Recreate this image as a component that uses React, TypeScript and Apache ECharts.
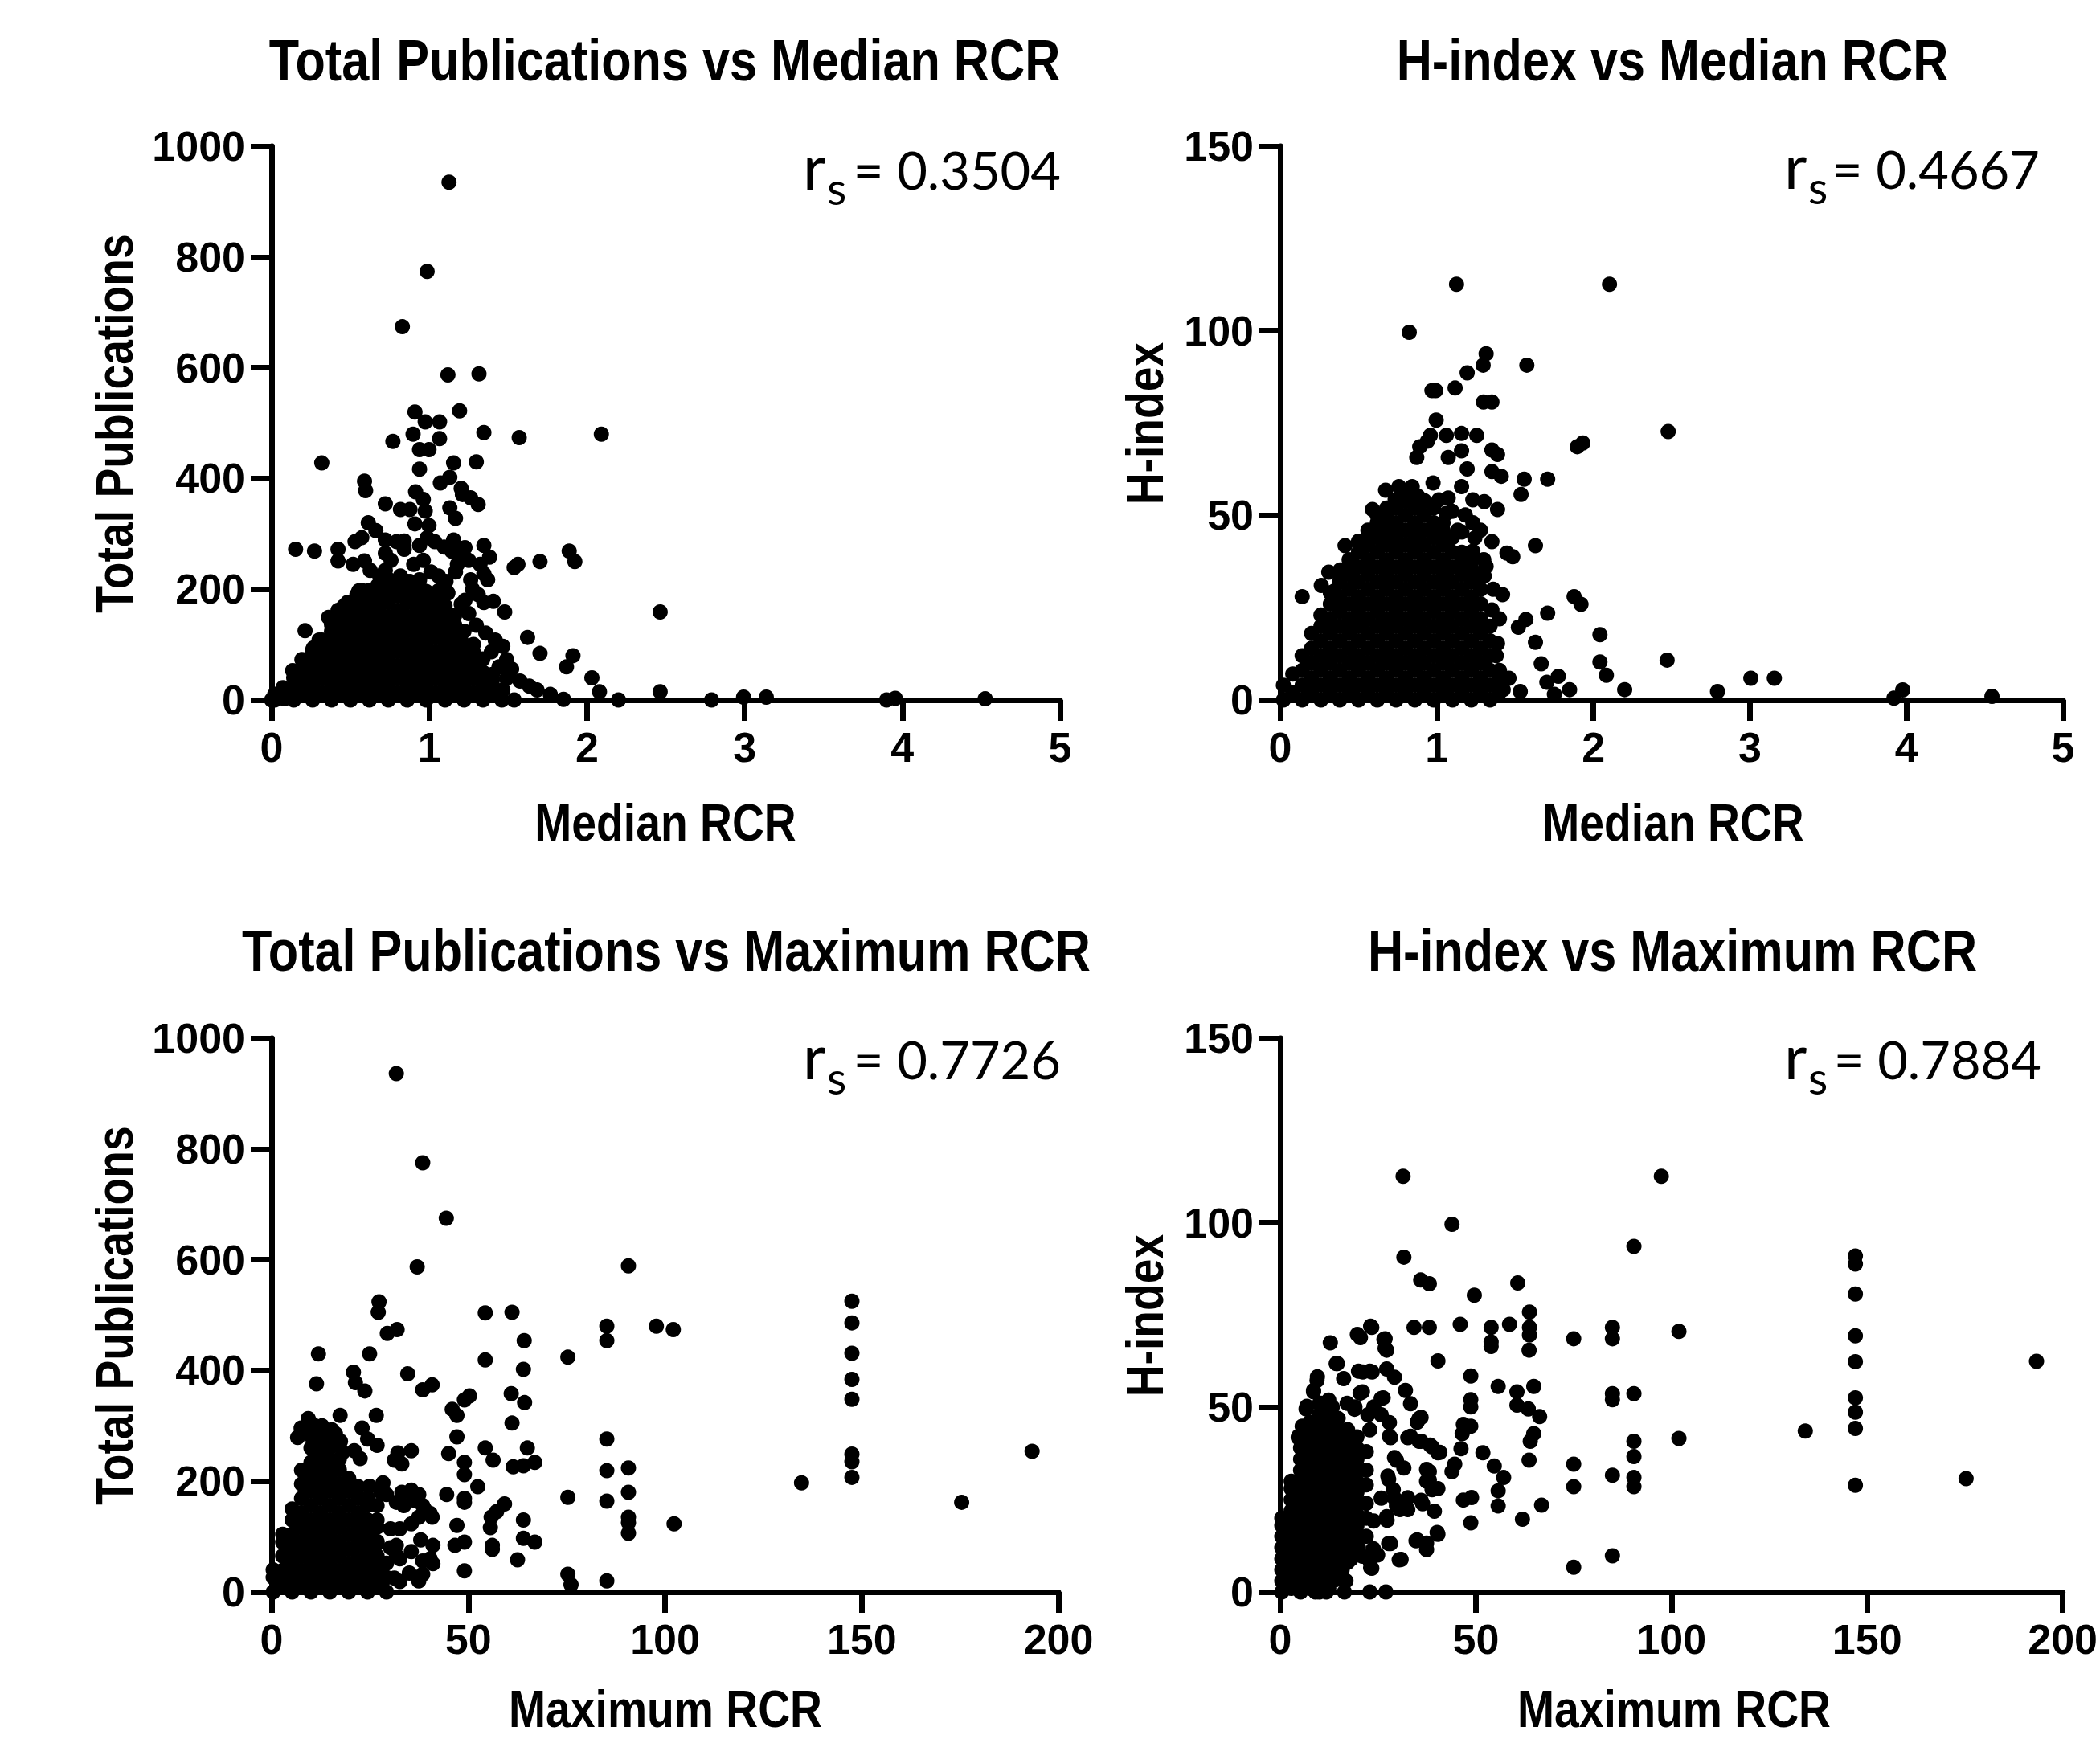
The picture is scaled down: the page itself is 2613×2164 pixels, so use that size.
import React, { useEffect, useRef } from "react";
import * as echarts from "echarts";

// ---------- text ----------
const PANEL_TITLES = [
  "Total Publications vs Median RCR",
  "H-index vs Median RCR",
  "Total Publications vs Maximum RCR",
  "H-index vs Maximum RCR",
];
const X_NAMES = ["Median RCR", "Median RCR", "Maximum RCR", "Maximum RCR"];
const Y_NAMES = ["Total Publications", "H-index", "Total Publications", "H-index"];
const RS_VALUES = ["0.3504", "0.4667", "0.7726", "0.7884"];

// ---------- axis ranges / ticks ----------
const MEDIAN_TICKS = [0, 1, 2, 3, 4, 5];
const MAX_TICKS = [0, 50, 100, 150, 200];
const PUB_TICKS = [0, 200, 400, 600, 800, 1000];
const H_TICKS = [0, 50, 100, 150];

// ---------- Panel 1: Total Publications vs Median RCR ----------
const pubVsMedianOutliers: [number, number][] = [
  [1.125, 935], [0.986, 774], [0.829, 674], [1.118, 587], [1.315, 589], [0.909, 520], [0.974, 502],
  [1.065, 502], [1.192, 522], [0.897, 480], [1.065, 472], [1.346, 483], [1.57, 474], [2.091, 480],
  [0.769, 467], [0.938, 452], [0.998, 452], [0.318, 428], [1.154, 428], [1.298, 430], [0.938, 417],
  [0.589, 395], [0.596, 378], [1.07, 392], [1.13, 402], [1.202, 382], [1.21, 371], [1.262, 365],
  [1.31, 353], [0.913, 376], [0.962, 362], [0.721, 354], [0.817, 344], [0.877, 344], [1.13, 347],
  [1.166, 328], [0.909, 318], [0.974, 341], [0.998, 315], [0.613, 320], [0.661, 306], [0.572, 293],
  [0.721, 289], [0.841, 287], [0.152, 272], [0.272, 269], [0.421, 272], [0.421, 251], [0.517, 245],
  [0.589, 251], [0.721, 234], [1.154, 289], [1.226, 275], [1.346, 279], [1.382, 258], [1.538, 239],
  [1.562, 245], [1.702, 250], [1.887, 269], [1.923, 250], [1.178, 245], [1.262, 217], [1.346, 228],
  [1.058, 224], [1.106, 214], [2.464, 159], [1.478, 159], [1.346, 176], [1.406, 178], [1.202, 173],
  [1.226, 180], [1.623, 113], [1.702, 84], [1.911, 80], [1.87, 60], [1.522, 56], [1.575, 34],
  [1.634, 25], [1.683, 18], [2.031, 40], [2.079, 15], [1.767, 10], [1.851, 1], [2.2, 0], [2.464, 15],
  [2.79, 0], [2.993, 5], [3.137, 5], [1.538, 0], [3.9, 0], [3.955, 3], [4.525, 2], [0.212, 125],
  [0.301, 108], [0.265, 94], [0.361, 149], [0.409, 149], [0.457, 169], [0.541, 190], [0.577, 197],
  [0.673, 207], [0.733, 204], [0.865, 210], [0.938, 217], [0.133, 53], [0.072, 22], [0, 0], [0.192, 73],
  [0.529, 286], [0.793, 286], [0.841, 272], [0.938, 279], [0.986, 293], [1.034, 286], [1.094, 276],
  [1.142, 269], [1.19, 265], [1.25, 252], [1.322, 245], [0.721, 265], [0.757, 252], [0.901, 245],
  [0.962, 252], [1.01, 231], [0.625, 234], [0.685, 224], [0.745, 217], [0.817, 224], [0.877, 214],
  [0.938, 204], [1.058, 197], [1.118, 193], [1.166, 231], [1.274, 200], [1.31, 190], [1.37, 217],
  [0.421, 162], [0.481, 176], [0.553, 197], [1.25, 156], [1.298, 135], [1.358, 121], [1.418, 108],
  [1.466, 97], [1.394, 87], [1.49, 73], [1.442, 60], [1.49, 39], [1.466, 18],
];
const pubVsMedianCluster: [number, number[]][] = [
  [0.02, [0, 10]],
  [0.08, [2, 18]],
  [0.14, [0, 24, 40]],
  [0.2, [12, 36, 60]],
  [0.26, [0, 25, 50, 74, 90]],
  [0.32, [12, 38, 62, 86, 108]],
  [0.38, [0, 26, 50, 76, 100, 124, 136]],
  [0.44, [13, 38, 62, 88, 112, 136, 154]],
  [0.5, [0, 25, 50, 76, 100, 126, 150, 174]],
  [0.56, [12, 38, 62, 88, 112, 138, 162, 186]],
  [0.62, [0, 26, 50, 76, 100, 124, 150, 176, 198]],
  [0.68, [12, 38, 64, 88, 112, 136, 162, 186, 204]],
  [0.74, [0, 26, 50, 76, 100, 126, 150, 176, 200, 212]],
  [0.8, [12, 38, 62, 88, 112, 138, 162, 188, 210]],
  [0.86, [0, 25, 50, 75, 100, 126, 150, 176, 200, 214]],
  [0.92, [12, 38, 62, 88, 112, 136, 162, 186, 206]],
  [0.98, [0, 26, 50, 76, 100, 124, 150, 174, 196]],
  [1.04, [12, 38, 62, 86, 112, 136, 160, 184]],
  [1.1, [0, 26, 50, 76, 100, 126, 148, 170]],
  [1.16, [12, 38, 62, 88, 112, 136, 152]],
  [1.22, [0, 25, 50, 74, 100, 124]],
  [1.28, [12, 38, 62, 86, 100]],
  [1.34, [0, 26, 50, 74]],
  [1.4, [12, 36, 46]],
  [1.46, [0, 16]],
];

// ---------- Panel 2: H-index vs Median RCR ----------
const hVsMedianOutliers: [number, number][] = [
  [1.126, 112.6], [2.103, 112.6], [0.824, 99.6], [1.315, 93.8], [1.296, 90.7], [1.575, 90.7],
  [1.194, 88.6], [0.969, 83.8], [0.993, 83.8], [1.117, 84.5], [1.298, 80.7], [1.352, 80.7],
  [0.996, 75.8], [2.478, 72.7], [0.959, 71.7], [0.94, 70.1], [0.891, 68.6], [0.872, 65.7],
  [1.061, 71.7], [1.158, 72.2], [1.255, 71.7], [1.158, 67.5], [1.073, 65.7], [1.352, 67.7],
  [1.388, 66.5], [1.897, 68.6], [1.933, 69.6], [1.194, 62.6], [1.352, 61.9], [1.412, 60.6],
  [1.558, 59.8], [1.538, 55.7], [1.708, 59.8], [0.976, 58.8], [1.158, 57.8], [0.673, 56.8],
  [0.758, 57.8], [0.843, 57.8], [1.073, 54.7], [1.23, 54.2], [1.303, 53.7], [1.388, 51.6],
  [0.589, 51.6], [0.654, 48], [0.414, 41.8], [1.352, 42.9], [1.63, 41.8], [1.243, 43.9],
  [1.23, 40.3], [1.218, 38.2], [1.448, 39.8], [1.485, 38.8], [1.315, 36.2], [1.303, 33.6],
  [1.248, 33.6], [0.31, 34.6], [0.414, 34.6], [0.262, 31], [0.346, 29.5], [0.14, 28], [1.42, 28.5],
  [1.877, 28], [1.921, 25.9], [1.352, 24.4], [1.708, 23.5], [1.521, 19.7], [1.569, 21.8],
  [2.042, 17.7], [1.63, 15.6], [1.388, 15.3], [1.667, 9.8], [2.042, 10.3], [2.083, 6.7],
  [2.471, 10.8], [1.703, 4.8], [1.776, 6.4], [1.461, 5.9], [1.424, 2.8], [1.533, 2.3], [1.751, 1.5],
  [1.848, 2.8], [2.2, 2.8], [2.793, 2.3], [3.006, 5.9], [3.156, 5.9], [3.92, 0.5], [3.976, 2.7],
  [4.546, 1], [0.734, 54.2], [0.795, 55.7], [0.879, 55.2], [1.013, 54.2], [1.097, 51.1],
  [1.182, 50.1], [0.577, 43.9], [0.528, 40.8], [0.455, 37.7], [0.383, 35.2], [1.134, 46],
  [1.23, 48], [1.279, 46], [1.06, 50.5], [1.16, 45.5], [1.3, 38], [1.36, 30], [1.4, 22], [1.38, 12],
];
const hVsMedianCluster: [number, number[]][] = [
  [0.02, [0, 4]],
  [0.08, [2, 7]],
  [0.14, [0, 4, 8, 12]],
  [0.2, [2, 6, 10, 14, 18]],
  [0.26, [0, 4, 8, 12, 16, 20, 23]],
  [0.32, [2, 6, 10, 14, 18, 22, 26, 29]],
  [0.38, [0, 4, 8, 12, 16, 20, 24, 28, 32, 34]],
  [0.44, [2, 6, 10, 14, 18, 22, 26, 30, 34, 38]],
  [0.5, [0, 4, 8, 12, 16, 20, 24, 28, 32, 36, 40, 43]],
  [0.56, [2, 6, 10, 14, 18, 22, 26, 30, 34, 38, 42, 46]],
  [0.62, [0, 4, 8, 12, 16, 20, 24, 28, 32, 36, 40, 44, 48, 50]],
  [0.68, [2, 6, 10, 14, 18, 22, 26, 30, 34, 38, 42, 46, 50, 52]],
  [0.74, [0, 4, 8, 12, 16, 20, 24, 28, 32, 36, 40, 44, 48, 52, 54]],
  [0.8, [2, 6, 10, 14, 18, 22, 26, 30, 34, 38, 42, 46, 50, 54]],
  [0.86, [0, 4, 8, 12, 16, 20, 24, 28, 32, 36, 40, 44, 48, 52, 55]],
  [0.92, [2, 6, 10, 14, 18, 22, 26, 30, 34, 38, 42, 46, 50, 54]],
  [0.98, [0, 4, 8, 12, 16, 20, 24, 28, 32, 36, 40, 44, 48, 52]],
  [1.04, [2, 6, 10, 14, 18, 22, 26, 30, 34, 38, 42, 46, 48]],
  [1.1, [0, 4, 8, 12, 16, 20, 24, 28, 32, 36, 40, 44]],
  [1.16, [2, 6, 10, 14, 18, 22, 26, 30, 34, 38, 40]],
  [1.22, [0, 4, 8, 12, 16, 20, 24, 28, 32, 36, 40]],
  [1.28, [2, 6, 10, 14, 18, 22, 26, 30, 34]],
  [1.34, [0, 4, 8, 12, 16, 20]],
  [1.4, [2, 6, 8]],
];

// ---------- Panel 3: Total Publications vs Maximum RCR ----------
const pubVsMaxOutliers: [number, number][] = [
  [31.7, 936], [38.4, 775], [44.4, 675], [37, 587], [90.7, 589], [27.3, 524], [27.1, 505], [54.3, 504],
  [61.1, 505], [29.4, 467], [31.9, 474], [85.2, 480], [85.2, 454], [97.8, 480], [102.1, 474],
  [64.2, 454], [11.9, 430], [24.9, 430], [75.3, 424], [54.3, 419], [64, 402], [11.4, 376], [20.8, 397],
  [21.3, 378], [23.7, 363], [34.6, 394], [38.4, 365], [40.8, 374], [26.6, 319], [9.3, 313], [17.4, 319],
  [45.9, 330], [47.1, 319], [49, 347], [50.3, 354], [60.9, 358], [64.3, 342], [61.1, 305], [85.2, 276],
  [47.1, 280], [54.3, 260], [56.3, 238], [45, 250], [49, 234], [49, 212], [65, 260], [66.9, 234],
  [61.4, 226], [64, 228], [85.2, 219], [90.7, 224], [134.7, 197], [52.4, 190], [44.5, 176], [49, 169],
  [49, 162], [59.2, 159], [57.2, 145], [55.8, 135], [55.6, 116], [75.3, 171], [85.2, 164], [90.7, 180],
  [90.7, 135], [90.7, 125], [90.7, 106], [102.3, 123], [64, 130], [47.1, 120], [46.6, 84], [49, 90],
  [56.1, 84], [56.1, 77], [64, 97], [66.9, 90], [62.5, 58], [49, 38], [75.3, 32], [76.1, 13], [85.2, 20],
  [41, 84], [41, 51], [38.4, 56], [37.4, 20], [35, 34], [31.2, 25], [32.6, 114], [30.2, 114],
  [35.5, 123], [31.7, 66], [31.7, 84], [33.1, 180], [35.5, 184], [37.4, 176], [38.9, 149], [40.8, 135],
  [37.4, 135], [28.3, 197], [27.8, 180], [24.9, 191], [35.5, 255], [32.1, 251], [31.2, 238],
  [33.1, 231], [23, 296], [26.8, 265], [24.4, 276], [21, 255], [22.5, 241], [17.5, 272], [18.1, 252],
  [26.8, 156], [26.8, 87], [23.9, 66], [23.9, 25], [147.5, 525], [147.5, 486], [147.5, 431],
  [147.5, 384], [147.5, 348], [147.5, 249], [147.5, 235], [147.5, 207], [175.4, 162], [193.3, 254],
  [7.5, 296], [10.4, 303], [12.8, 300], [15.3, 293], [6.6, 279], [16.2, 286],
  [29.2, 176], [31.7, 162], [33.6, 156], [36, 166], [38.4, 156], [40.3, 142], [30.2, 80], [32.6, 60],
  [35.5, 73], [37.9, 94], [40.3, 60], [38.4, 32], [32.6, 19], [26.8, 46], [24.9, 19], [21, 19], [28.8, 25],
];
const pubVsMaxCluster: [number, number[]][] = [
  [0.4, [0, 26, 40]],
  [2.8, [13, 39, 65, 90, 104]],
  [5.2, [0, 26, 52, 78, 104, 130, 150]],
  [7.6, [13, 39, 65, 91, 117, 143, 169, 195, 220]],
  [10.0, [0, 26, 52, 78, 104, 130, 156, 182, 208, 234, 260, 282]],
  [12.4, [13, 39, 65, 91, 117, 143, 169, 195, 221, 247, 273, 292]],
  [14.8, [0, 26, 52, 78, 104, 130, 156, 182, 208, 234, 260, 278]],
  [17.2, [13, 39, 65, 91, 117, 143, 169, 195, 221, 240]],
  [19.6, [0, 26, 52, 78, 104, 130, 156, 182, 205]],
  [22.0, [13, 39, 65, 91, 117, 143, 169, 190]],
  [24.4, [0, 26, 52, 78, 104, 130, 156, 170]],
  [26.8, [13, 39, 65, 91, 117, 130]],
  [29.2, [0, 26, 52]],
];

// ---------- Panel 4: H-index vs Maximum RCR ----------
const hVsMaxOutliers: [number, number][] = [
  [31.4, 112.6], [97.4, 112.6], [43.9, 99.6], [31.6, 90.7], [90.4, 93.6], [35.9, 84.5], [38.1, 83.5],
  [60.7, 83.7], [49.6, 80.4], [34.2, 71.7], [38.1, 71.7], [46, 72.5], [53.9, 71.7], [53.9, 67.7],
  [53.9, 66.5], [58.6, 72.5], [63.7, 75.8], [63.7, 71.7], [63.7, 69.6], [63.6, 65.5], [75, 68.6],
  [84.9, 71.7], [84.9, 68.6], [101.9, 70.6], [40.3, 62.6], [12.8, 67.5], [23.4, 71.7], [20.5, 68.9],
  [26.8, 68.6], [26.8, 66], [48.7, 58.5], [48.7, 52.1], [48.7, 50.1], [55.7, 55.7], [60.5, 54.2],
  [60.5, 50.6], [64.8, 55.7], [84.9, 53.7], [84.9, 52.1], [90.4, 53.7], [134.2, 43.6], [101.9, 41.6],
  [63.4, 49.6], [66.3, 47.5], [35.5, 47], [35, 46], [26.3, 52.6], [46.8, 45.4], [46.5, 42.9],
  [48.7, 44.9], [64.8, 42.9], [63.9, 40.8], [32.6, 41.8], [35.5, 40.8], [38.3, 39.8], [40.3, 37.7],
  [46.2, 38.8], [51.8, 37.7], [63.6, 35.7], [54.7, 34.1], [57.1, 31], [55.7, 27.4], [55.7, 23.3],
  [44.6, 34.6], [43.9, 32.6], [75, 34.6], [75, 28.5], [90.4, 40.8], [90.4, 36.7], [90.4, 31],
  [90.4, 28.5], [84.9, 31.6], [38.1, 32.6], [37.4, 30], [40.3, 28], [46.8, 24.9], [48.9, 25.6],
  [48.7, 18.7], [61.9, 19.7], [66.8, 23.5], [75, 6.7], [84.9, 9.8], [35, 14.1], [37.4, 11.5],
  [40.3, 15.6], [30.4, 8.7], [27.3, 19.4], [27.7, 13.1], [23.4, 6.4], [22.9, 8.4], [9, 0], [11.8, 0],
  [16.4, 0], [22.9, 0], [27, 0], [15.2, 5.9], [14.1, 3.3], [27.7, 30.5], [29.2, 25.4], [30.6, 22.3],
  [32.6, 22.3], [36.4, 23.9], [147, 91], [147, 88.8], [147, 80.7], [147, 69.4], [147, 62.4],
  [147, 52.6], [147, 48.7], [147, 44.3], [147, 28.9], [175.3, 30.7], [193.3, 62.5], [6.6, 49.6],
  [8.5, 54.2], [9.4, 57.3], [14.3, 61.9], [16.2, 57.8], [20, 59.8], [22.9, 59.8], [21, 54.2],
  [23.9, 50.1], [22.9, 43.9], [25.8, 48], [28.2, 41.8], [29.7, 35.7], [19.1, 50.1], [17.1, 51.1],
  [4.6, 41.8], [5.6, 44.9], [10.4, 51.1], [13.3, 50.1], [31.6, 33.6], [29.7, 23.3], [25.8, 25.4],
  [23.9, 19.2], [20, 12], [22, 15.1], [24.9, 10], [18.1, 8.9],
  [19.7, 69.8], [23.1, 72], [26.5, 68.4], [27.2, 65.5], [27.2, 60.4], [29.2, 58.2], [32, 54.6],
  [33.3, 51], [36, 47.3], [33.3, 42.2], [36, 40.8], [38.8, 39.3], [40.8, 37.8], [14.6, 61.9],
  [9.5, 58.3], [8.5, 54.6], [6.8, 50.3], [4.7, 42.2], [21.1, 59.6], [23.5, 59.6], [25.8, 52.4],
  [20.4, 53.9], [19, 49.5], [22.4, 48], [27.9, 45.9], [27.9, 42.2], [29.2, 36.4], [27.5, 31.4],
  [28.9, 27.7], [27.2, 20.4], [28.2, 13.1], [30.9, 8.8], [23.8, 11.7], [23.1, 6.6], [15.8, 5.9],
  [16.8, 3], [18.4, 13.3], [21, 9.7], [32.6, 25.5], [36, 24.8], [38.8, 27.7], [39.4, 21.9],
  [40.1, 16.1], [37.4, 13.2], [34.7, 13.9], [37.4, 33.2], [38.1, 30.3],
];
const hVsMaxCluster: [number, number[]][] = [
  [0.4, [0, 3, 6, 9, 12, 15, 18, 20]],
  [2.8, [1, 4, 7, 10, 13, 16, 19, 22, 25, 28, 30]],
  [5.2, [0, 3, 6, 9, 12, 15, 18, 21, 24, 27, 30, 33, 36, 39]],
  [7.6, [1, 4, 7, 10, 13, 16, 19, 22, 25, 28, 31, 34, 37, 40, 43, 46]],
  [10.0, [0, 3, 6, 9, 12, 15, 18, 21, 24, 27, 30, 33, 36, 39, 42, 45, 48, 51]],
  [12.4, [1, 4, 7, 10, 13, 16, 19, 22, 25, 28, 31, 34, 37, 40, 43, 46, 49, 52]],
  [14.8, [5, 8, 11, 14, 17, 20, 23, 26, 29, 32, 35, 38, 41, 44, 47]],
  [17.2, [8, 11, 14, 17, 20, 23, 26, 29, 32, 35, 38, 41, 44]],
  [19.6, [15, 18, 21, 24, 27, 30, 33, 36, 39, 42]],
  [22.0, [20, 24, 29, 33, 38]],
];

function expand(cols: [number, number[]][]): [number, number][] {
  const out: [number, number][] = [];
  for (const [x, ys] of cols) for (const y of ys) out.push([x, y]);
  return out;
}

const BOLD_FONT = "'Liberation Sans', Arial, Helvetica, sans-serif";
const NOTE_FONT = "Lato, 'Open Sans', sans-serif";

export default function App() {
  const ref = useRef<HTMLDivElement>(null);

  useEffect(() => {
    document.body.style.margin = "0";
    if (!ref.current) return;
    const chart = echarts.init(ref.current, undefined, { renderer: "svg" });

    const grids = [
      { left: 338, top: 182, width: 981, height: 689 },
      { left: 1593, top: 182, width: 974, height: 689 },
      { left: 338, top: 1292, width: 979, height: 689 },
      { left: 1593, top: 1292, width: 976, height: 689 },
    ];
    const xTicks = [MEDIAN_TICKS, MEDIAN_TICKS, MAX_TICKS, MAX_TICKS];
    const yTicks = [PUB_TICKS, H_TICKS, PUB_TICKS, H_TICKS];
    const seriesData = [
      [...expand(pubVsMedianCluster), ...pubVsMedianOutliers],
      [...expand(hVsMedianCluster), ...hVsMedianOutliers],
      [...expand(pubVsMaxCluster), ...pubVsMaxOutliers],
      [...expand(hVsMaxCluster), ...hVsMaxOutliers],
    ];

    const axisLine = { show: true, onZero: false, lineStyle: { color: "#000", width: 7 } };
    const axisTick = { show: true, inside: false, length: 26, lineStyle: { color: "#000", width: 7 } };
    const labelStyle = {
      color: "#000",
      fontFamily: BOLD_FONT,
      fontWeight: "bold" as const,
      fontSize: 52,
      margin: 33,
      formatter: (v: number) => String(v),
    };

    const makeAxis = (ticks: number[], i: number) => ({
      type: "value" as const,
      gridIndex: i,
      min: ticks[0],
      max: ticks[ticks.length - 1],
      interval: ticks[1] - ticks[0],
      axisLine,
      axisTick,
      splitLine: { show: false },
      axisLabel: labelStyle,
    });
    const xAxis = grids.map((_, i) => makeAxis(xTicks[i], i));
    const yAxis = grids.map((_, i) => makeAxis(yTicks[i], i));

    // layout positions for the panel texts
    const titleCenters = [
      [827, 75],
      [2081, 75],
      [829, 1183],
      [2081, 1183],
    ];
    const xNameCenters = [
      [828, 1023],
      [2082, 1023],
      [828, 2126],
      [2083, 2126],
    ];
    const yNameCenters = [
      [142, 527],
      [1424, 527],
      [142, 1637],
      [1424, 1637],
    ];
    // r left edge and text baseline of each annotation, and right edge of its number
    const noteAnchor = [
      [999, 236],
      [2220, 235],
      [999, 1343],
      [2220, 1343],
    ];
    const noteRight = [1320, 2538, 1320, 2540];

    const boldText = (text: string, x: number, y: number, size: number, rotation = 0) => ({
      type: "text",
      x,
      y,
      rotation,
      scaleX: 0.85,
      style: {
        text,
        fill: "#000",
        fontFamily: BOLD_FONT,
        fontWeight: "bold",
        fontSize: size,
        lineHeight: Math.round(size * 0.85),
        align: "center",
        verticalAlign: "middle",
      },
    });

    const graphics: any[] = [];
    titleCenters.forEach(([cx, cy], i) => graphics.push(boldText(PANEL_TITLES[i], cx, cy, 72)));
    xNameCenters.forEach(([cx, cy], i) => graphics.push(boldText(X_NAMES[i], cx, cy, 65)));
    yNameCenters.forEach(([cx, cy], i) => graphics.push(boldText(Y_NAMES[i], cx, cy, 65, Math.PI / 2)));
    noteAnchor.forEach(([rx, base], i) => {
      graphics.push({
        type: "text",
        x: rx,
        y: base - 30,
        style: { text: "r", fill: "#000", fontFamily: NOTE_FONT, fontSize: 78, align: "left", verticalAlign: "middle" },
      });
      graphics.push({
        type: "text",
        x: rx + 30,
        y: base + 19 - 22,
        style: { text: "s", fill: "#000", fontFamily: NOTE_FONT, fontSize: 56, align: "left", verticalAlign: "middle" },
      });
      graphics.push({
        type: "text",
        x: noteRight[i],
        y: base - 25,
        style: {
          text: "= " + RS_VALUES[i],
          fill: "#000",
          fontFamily: NOTE_FONT,
          fontSize: 65,
          align: "right",
          verticalAlign: "middle",
        },
      });
    });

    chart.setOption({
      animation: false,
      backgroundColor: "#fff",
      grid: grids,
      xAxis,
      yAxis,
      graphic: graphics,
      series: seriesData.map((data, i) => ({
        type: "scatter",
        xAxisIndex: i,
        yAxisIndex: i,
        data,
        symbol: "circle",
        symbolSize: 19,
        clip: false,
        itemStyle: { color: "#000", opacity: 1 },
        emphasis: { disabled: true },
      })),
    });

    return () => chart.dispose();
  }, []);

  return <div ref={ref} style={{ width: 2613, height: 2164 }} />;
}
